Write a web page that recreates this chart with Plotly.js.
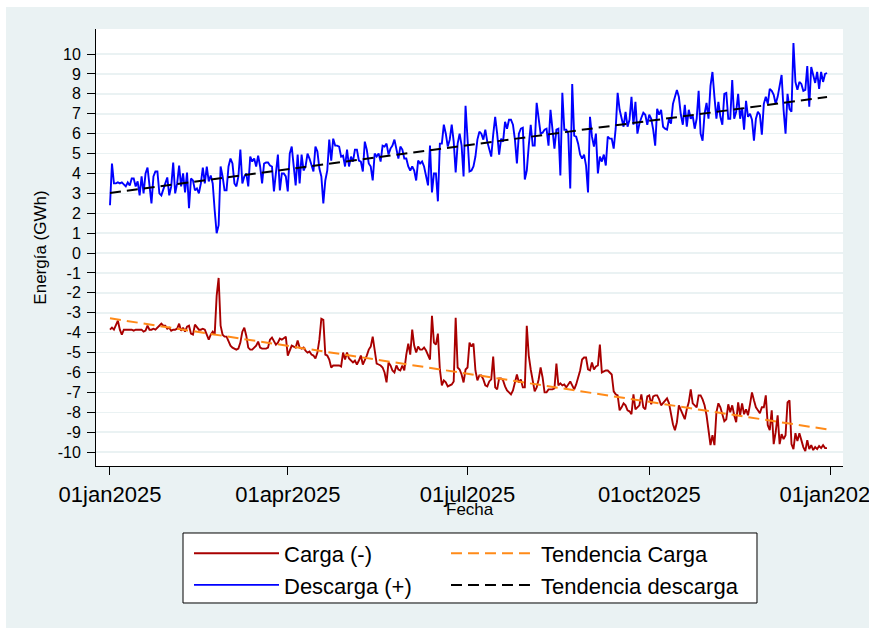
<!DOCTYPE html>
<html><head><meta charset="utf-8">
<script src="https://cdn.plot.ly/plotly-3.0.1.min.js"></script>
<style>html,body{margin:0;padding:0;background:#fff}#chart{width:869px;height:628px}</style>
</head><body><div id="chart"></div>
<script>
// ---- data (daily, from 01jan2025) ----
const startDate = '2025-01-01';
const descarga = [
 2.4, 4.5, 3.5, 3.5, 3.55, 3.5, 3.55, 3.45, 3.35, 3.55,
 3.4, 3.75, 3.75, 3.35, 3.6, 2.9, 3.85, 3.0, 4.0, 4.3,
 3.5, 2.5, 3.85, 4.1, 4.1, 3.0, 2.9, 3.15, 3.5, 3.8,
 2.9, 3.35, 4.55, 3.0, 3.5, 4.4, 3.35, 4.0, 3.05, 4.05,
 2.25, 3.75, 3.65, 3.15, 3.25, 3.0, 3.5, 4.3, 3.5, 4.35,
 3.6, 3.9, 3.5, 2.15, 1.0, 1.4, 4.35, 3.85, 3.15, 3.15,
 4.35, 4.75, 4.5, 3.5, 3.35, 3.85, 5.2, 3.5, 3.85, 4.0,
 3.35, 4.85, 4.6, 4.75, 4.35, 4.9, 4.35, 3.5, 4.5, 4.55,
 4.55, 4.4, 4.35, 3.1, 4.0, 4.95, 3.15, 4.0, 4.0, 3.85,
 3.1, 5.0, 5.35, 4.15, 3.4, 4.95, 3.5, 4.95, 4.15, 4.35,
 5.0, 4.75, 4.35, 4.1, 5.35, 5.1, 4.25, 3.85, 2.5, 3.65,
 4.15, 5.7, 4.65, 5.75, 5.4, 5.4, 5.35, 4.85, 4.9, 4.35,
 5.2, 4.35, 4.85, 4.6, 5.2, 5.2, 4.65, 4.6, 4.1, 5.6,
 5.2, 4.5, 4.35, 3.65, 5.0, 4.85, 5.0, 4.6, 5.4, 5.35,
 5.5, 4.95, 5.25, 5.4, 5.7, 5.2, 4.75, 5.35, 5.2, 4.75,
 4.75, 4.35, 4.15, 4.35, 4.15, 3.65, 4.65, 4.5, 4.6, 4.35,
 3.85, 3.4, 5.4, 3.05, 4.0, 4.0, 2.6, 5.5, 5.5, 6.45,
 6.0, 5.35, 5.7, 6.45, 5.6, 4.05, 5.5, 6.0, 5.4, 3.85,
 7.4, 5.4, 4.1, 4.15, 4.35, 4.85, 5.7, 6.1, 6.0, 5.7,
 6.2, 5.6, 5.2, 4.85, 5.95, 6.85, 6.0, 4.95, 5.75, 5.6,
 6.6, 6.25, 6.7, 6.7, 6.45, 5.7, 4.5, 6.0, 6.25, 6.3,
 3.7, 4.15, 5.4, 6.45, 5.4, 5.4, 7.55, 6.75, 6.0, 6.05,
 6.2, 6.25, 5.4, 7.2, 6.0, 5.25, 6.2, 6.25, 3.9, 8.05,
 6.2, 6.2, 6.0, 3.25, 8.5, 5.9, 5.85, 5.5, 4.95, 4.75,
 4.95, 4.4, 3.05, 6.85, 5.85, 5.35, 6.0, 4.0, 4.85, 4.6,
 4.95, 4.4, 5.85, 5.75, 5.75, 5.25, 6.25, 8.05, 7.2, 6.7,
 6.35, 7.1, 6.35, 6.7, 7.85, 6.45, 7.6, 6.0, 6.5, 6.8,
 7.05, 6.95, 6.45, 6.95, 6.75, 6.2, 5.4, 7.25, 6.95, 7.2,
 6.35, 6.25, 6.2, 6.75, 6.5, 7.5, 7.85, 8.2, 7.85, 6.95,
 6.45, 7.45, 6.35, 7.2, 6.75, 6.9, 6.25, 6.75, 8.15, 6.0,
 5.65, 7.0, 7.55, 6.75, 8.4, 9.1, 7.85, 6.75, 7.6, 6.85,
 6.45, 8.0, 8.05, 6.75, 6.75, 8.7, 6.75, 7.1, 8.0, 6.75,
 7.3, 6.2, 7.65, 6.85, 7.0, 6.7, 5.65, 6.75, 7.1, 6.95,
 5.95, 7.5, 7.85, 7.5, 8.25, 8.15, 7.95, 7.5, 7.85, 8.5,
 8.95, 7.2, 6.0, 8.0, 7.25, 7.1, 10.55, 8.6, 8.2, 8.6,
 8.5, 8.15, 8.2, 9.4, 7.35, 9.35, 8.95, 8.55, 9.1, 8.25,
 9.1, 8.6, 9.0, 9.05
];
const carga = [
 -3.85, -3.75, -3.85, -3.65, -3.4, -3.85, -4.1, -3.85, -3.85, -3.85,
 -3.85, -3.85, -3.9, -3.85, -3.85, -3.85, -3.85, -3.95, -3.9, -3.65,
 -3.85, -3.85, -3.8, -3.85, -3.75, -3.65, -3.55, -3.65, -3.65, -3.8,
 -3.75, -3.9, -3.85, -3.85, -3.8, -3.55, -3.9, -3.75, -3.95, -3.7,
 -3.65, -4.05, -4.1, -3.6, -3.75, -3.85, -3.85, -3.8, -3.85, -4.1,
 -4.35, -4.1, -3.95, -4.1, -2.15, -1.25, -3.65, -4.1, -4.2, -4.2,
 -4.4, -4.65, -4.75, -4.8, -4.85, -4.8, -4.5, -3.95, -3.75, -4.15,
 -4.75, -4.85, -4.85, -4.75, -4.65, -4.45, -4.75, -4.8, -4.8, -4.8,
 -4.75, -4.35, -4.25, -4.4, -4.6, -4.5, -4.3, -4.35, -4.25, -4.2,
 -5.15, -4.85, -4.65, -4.7, -4.75, -4.4, -4.75, -4.8, -4.75, -4.9,
 -5.0, -4.95, -5.1, -5.15, -5.3, -5.0, -4.35, -3.3, -3.35, -5.1,
 -5.15, -5.35, -5.75, -5.65, -5.65, -5.65, -5.65, -5.7, -5.0, -5.35,
 -5.0, -5.3, -5.4, -5.5, -5.4, -5.6, -5.4, -5.15, -5.6, -5.4,
 -5.15, -4.85, -4.7, -4.2, -4.9, -5.55, -5.6, -5.65, -5.75, -6.0,
 -6.5, -5.5, -5.65, -5.9, -6.0, -5.65, -5.85, -5.9, -5.65, -5.9,
 -5.1, -4.55, -5.1, -3.85, -4.65, -5.0, -4.7, -4.85, -4.85, -4.75,
 -4.9, -5.1, -5.35, -3.15, -4.5, -4.6, -4.05, -5.85, -6.65, -6.4,
 -6.5, -6.7, -6.65, -6.6, -6.45, -3.25, -5.75, -5.85, -6.1, -6.5,
 -5.85, -5.75, -4.5, -4.7, -4.55, -5.9, -6.4, -6.15, -6.15, -6.35,
 -6.65, -6.7, -6.45, -6.35, -5.2, -6.75, -6.85, -6.3, -6.3, -6.4,
 -6.7, -6.9, -7.0, -7.1, -6.9, -6.5, -6.1, -6.5, -6.35, -6.75,
 -6.75, -3.65, -5.15, -5.85, -6.35, -6.95, -6.75, -6.35, -5.75, -6.25,
 -7.0, -7.0, -6.85, -6.85, -6.85, -6.8, -5.55, -6.65, -6.55, -6.65,
 -6.6, -6.75, -6.6, -6.45, -6.65, -6.85, -6.6, -6.3, -5.9, -5.35,
 -5.25, -5.25, -5.85, -5.9, -5.5, -5.85, -5.7, -5.65, -4.6, -6.0,
 -5.95, -5.9, -5.9, -6.0, -6.1, -6.95, -7.1, -7.15, -7.9, -7.75,
 -7.55, -7.65, -7.9, -7.95, -8.1, -7.1, -7.85, -7.75, -7.65, -7.1,
 -7.75, -7.85, -7.2, -7.15, -7.6, -7.2, -7.15, -7.15, -7.35, -7.65,
 -7.55, -7.4, -7.3, -7.55, -8.1, -8.6, -8.9, -8.5, -7.65, -7.9,
 -8.1, -8.35, -7.85, -7.5, -6.85, -7.55, -7.65, -7.75, -7.15, -7.15,
 -7.35, -7.65, -8.15, -9.0, -9.65, -9.15, -9.65, -8.0, -7.55, -7.75,
 -8.1, -8.45, -8.35, -7.6, -8.0, -7.65, -8.15, -8.5, -7.5, -8.15,
 -7.55, -8.1, -7.85, -8.15, -7.6, -7.0, -7.4, -7.75, -7.9, -8.05,
 -7.75, -7.75, -7.15, -8.65, -8.9, -7.9, -9.6, -9.0, -8.15, -9.6,
 -9.1, -9.35, -9.15, -7.5, -7.4, -9.6, -9.85, -9.05, -9.45, -9.05,
 -9.4, -9.75, -9.95, -9.4, -9.85, -9.65, -9.9, -9.75, -9.85, -9.7,
 -9.8, -9.65, -9.8, -9.8
];
const trendDates = ['2025-01-01', '2025-12-30'];
const trendCarga = [-3.28, -8.86];
const trendDescarga = [3.02, 7.84];
const seriesNames = ['Carga (-)', 'Descarga (+)', 'Tendencia Carga', 'Tendencia descarga'];
const xTitle = 'Fecha';
const yTitle = 'Energía (GWh)';
const xTickVals = ['2025-01-01', '2025-04-01', '2025-07-01', '2025-10-01', '2026-01-01'];
const xTickText = ['01jan2025', '01apr2025', '01jul2025', '01oct2025', '01jan2026'];
const yTickVals = [-10,-9,-8,-7,-6,-5,-4,-3,-2,-1,0,1,2,3,4,5,6,7,8,9,10];
const yTickText = ['-10','-9','-8','-7','-6','-5','-4','-3','-2','-1','0','1','2','3','4','5','6','7','8','9','10'];

function buildDates(start, n) {
  const p = start.split('-').map(Number);
  const t0 = Date.UTC(p[0], p[1] - 1, p[2]);
  const out = [];
  for (let i = 0; i < n; i++) out.push(new Date(t0 + i * 86400000).toISOString().slice(0, 10));
  return out;
}
const datesD = buildDates(startDate, descarga.length);
const datesC = buildDates(startDate, carga.length);

const FONT = 'Liberation Sans, Arial, Helvetica, sans-serif';
const traces = [
  {x: datesC, y: carga, type: 'scatter', mode: 'lines', name: seriesNames[0], legend: 'legend',
   line: {color: '#a80000', width: 1.9}},
  {x: datesD, y: descarga, type: 'scatter', mode: 'lines', name: seriesNames[1], legend: 'legend',
   line: {color: '#0000ff', width: 1.9}},
  {x: trendDates, y: trendCarga, type: 'scatter', mode: 'lines', name: seriesNames[2], legend: 'legend2',
   line: {color: '#ff8a18', width: 2, dash: '11px,6px'}},
  {x: trendDates, y: trendDescarga, type: 'scatter', mode: 'lines', name: seriesNames[3], legend: 'legend2',
   line: {color: '#000000', width: 2, dash: '11px,6px'}}
];

const legendCommon = {
  orientation: 'v', xanchor: 'left', yanchor: 'top', bgcolor: 'rgba(0,0,0,0)', borderwidth: 0,
  itemwidth: 85, font: {family: FONT, size: 22, color: '#000'}, itemclick: false, itemdoubleclick: false
};

const layout = {
  width: 869, height: 628,
  margin: {l: 96, r: 26, t: 29, b: 162, pad: 0},
  paper_bgcolor: '#eaf2f3',
  plot_bgcolor: '#ffffff',
  font: {family: FONT, color: '#000'},
  showlegend: true,
  hovermode: false,
  xaxis: {
    type: 'date', range: ['2024-12-24 22:00', '2026-01-07 02:00'],
    tickmode: 'array', tickvals: xTickVals, ticktext: xTickText,
    ticks: 'outside', ticklen: 8, tickwidth: 1, tickcolor: '#000',
    showline: true, linecolor: '#000', linewidth: 1,
    showgrid: false, zeroline: false,
    tickfont: {family: FONT, size: 22, color: '#000'},
    ticklabelstandoff: 1,
    ticklabeloverflow: 'allow',
    automargin: false
  },
  yaxis: {
    range: [-10.70, 11.26],
    tickmode: 'array', tickvals: yTickVals, ticktext: yTickText,
    ticks: 'outside', ticklen: 8, tickwidth: 1, tickcolor: '#000',
    showline: true, linecolor: '#000', linewidth: 1,
    showgrid: true, gridcolor: '#eaf2f3', gridwidth: 1.5, zeroline: false,
    tickfont: {family: FONT, size: 16, color: '#000'},
    ticklabelstandoff: 3,
    title: {text: yTitle, font: {family: FONT, size: 17, color: '#000'}, standoff: 6},
    automargin: false
  },
  annotations: [
    {text: xTitle, xref: 'paper', yref: 'paper', x: 0.5, y: -0.0984, xanchor: 'center', yanchor: 'middle',
     showarrow: false, font: {family: FONT, size: 17, color: '#000'}}
  ],
  legend: Object.assign({}, legendCommon, {x: 0.1245, y: -0.1522}),
  legend2: Object.assign({}, legendCommon, {x: 0.4685, y: -0.1522}),
  shapes: [
    {type: 'rect', xref: 'paper', yref: 'paper', x0: -0.1285, x1: 1.0348, y0: 1.0503, y1: 1.0664,
     fillcolor: '#ffffff', line: {width: 0}, layer: 'below'},
    {type: 'rect', xref: 'paper', yref: 'paper', x0: -0.1285, x1: -0.1205, y0: -0.3707, y1: 1.0664,
     fillcolor: '#ffffff', line: {width: 0}, layer: 'below'},
    {type: 'rect', xref: 'paper', yref: 'paper', x0: 0.11647, x1: 0.88487, y0: -0.3135, y1: -0.1533,
     fillcolor: '#ffffff', line: {color: '#000', width: 1}, layer: 'below'}
  ]
};

Plotly.newPlot('chart', traces, layout, {displayModeBar: false, staticPlot: true});
</script>
</body></html>
